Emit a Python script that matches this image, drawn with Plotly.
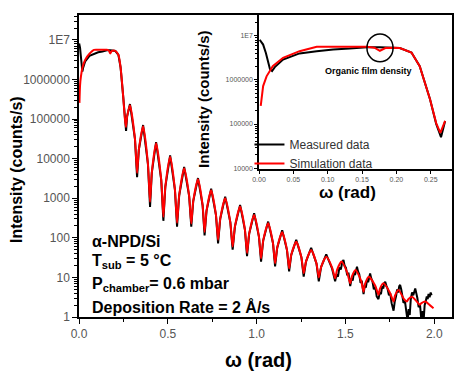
import plotly.graph_objects as go

# ---------------- data ----------------
# omega (rad) and log10(intensity in counts/s)
sim_omega = [
    0.0025, 0.006, 0.011, 0.020, 0.035, 0.059, 0.084, 0.120, 0.157, 0.168, 0.176, 0.184,
    0.195, 0.205, 0.222, 0.234, 0.249, 0.258,
    0.264, 0.271, 0.287, 0.315, 0.327, 0.337, 0.361, 0.388, 0.400, 0.410, 0.434, 0.463,
    0.475, 0.486, 0.513, 0.540, 0.552, 0.564, 0.592, 0.620, 0.632, 0.643, 0.670, 0.696,
    0.707, 0.718, 0.744, 0.771, 0.783, 0.795, 0.823, 0.852, 0.865, 0.878, 0.907, 0.934,
    0.946, 0.958, 0.986, 1.013, 1.025, 1.037, 1.065, 1.092, 1.104, 1.116, 1.144, 1.171,
    1.183, 1.195, 1.223, 1.252, 1.265, 1.278, 1.307, 1.337, 1.350, 1.363, 1.392, 1.425,
    1.442, 1.453, 1.478, 1.510, 1.527, 1.536, 1.557, 1.588, 1.602, 1.610, 1.632, 1.668,
    1.686, 1.694, 1.714, 1.750, 1.771, 1.779, 1.799, 1.830, 1.846, 1.854, 1.874, 1.900,
    1.918, 1.928, 1.950, 1.975, 1.996,
]
sim_log10 = [
    5.41, 5.86, 6.08, 6.31, 6.50, 6.65, 6.75, 6.75, 6.75, 6.73, 6.66, 6.72,
    6.73, 6.72, 6.62, 6.31, 5.56, 5.02,
    4.80, 5.07, 5.35, 4.50, 3.64, 4.23, 4.82, 3.87, 2.91, 3.65, 4.39, 3.46,
    2.53, 3.29, 4.05, 3.22, 2.38, 3.07, 3.76, 3.06, 2.36, 2.92, 3.48, 2.82,
    2.15, 2.68, 3.20, 2.58, 1.95, 2.48, 3.00, 2.39, 1.78, 2.29, 2.79, 2.21,
    1.62, 2.10, 2.58, 2.03, 1.48, 1.93, 2.37, 1.87, 1.36, 1.75, 2.14, 1.69,
    1.23, 1.57, 1.90, 1.51, 1.11, 1.40, 1.69, 1.35, 1.00, 1.26, 1.52, 1.25,
    0.98, 1.19, 1.40, 1.12, 0.85, 1.02, 1.19, 0.92, 0.64, 0.83, 1.02, 0.79,
    0.56, 0.71, 0.85, 0.62, 0.39, 0.54, 0.68, 0.45, 0.39, 0.45, 0.51, 0.40,
    0.31, 0.35, 0.39, 0.30, 0.22,
]

meas_omega = [
    0.001, 0.006, 0.010, 0.013, 0.016, 0.019, 0.023, 0.035, 0.059, 0.084, 0.108, 0.132,
    0.157, 0.176, 0.195, 0.205, 0.222, 0.234, 0.249, 0.258,
    0.265, 0.271, 0.287, 0.315, 0.327, 0.337, 0.361, 0.388, 0.400, 0.410, 0.434, 0.463,
    0.475, 0.486, 0.513, 0.540, 0.552, 0.564, 0.592, 0.620, 0.632, 0.643, 0.670, 0.696,
    0.707, 0.718, 0.744, 0.771, 0.783, 0.795, 0.823, 0.852, 0.865, 0.878, 0.907, 0.934,
    0.946, 0.958, 0.986, 1.013, 1.025, 1.037, 1.065, 1.092, 1.104, 1.116, 1.144, 1.171,
    1.183, 1.195, 1.223, 1.252, 1.265, 1.278, 1.307, 1.337, 1.350, 1.363, 1.392, 1.425,
    1.442, 1.450, 1.458, 1.466, 1.474, 1.482, 1.489, 1.495, 1.503, 1.510, 1.517,
    1.527, 1.535, 1.541, 1.548, 1.554, 1.560, 1.565, 1.571, 1.578, 1.585, 1.592,
    1.602, 1.609, 1.615, 1.622, 1.628, 1.634, 1.639, 1.645, 1.652, 1.660, 1.668,
    1.676, 1.686, 1.693, 1.700, 1.707, 1.713, 1.719, 1.724, 1.730, 1.737, 1.745,
    1.752, 1.760, 1.771, 1.778, 1.785, 1.791, 1.797, 1.803, 1.808, 1.814, 1.820,
    1.827, 1.835, 1.843, 1.850, 1.856, 1.862, 1.868, 1.875, 1.882, 1.888, 1.893,
    1.899, 1.905, 1.912, 1.920, 1.928, 1.935, 1.940, 1.946, 1.952, 1.958, 1.963,
    1.968, 1.974, 1.980, 1.985,
]
meas_log10 = [
    6.91, 6.80, 6.61, 6.39, 6.24, 6.20, 6.29, 6.46, 6.60, 6.65, 6.69, 6.71,
    6.74, 6.74, 6.73, 6.72, 6.62, 6.31, 5.56, 5.00,
    4.70, 5.07, 5.38, 4.50, 3.53, 4.23, 4.85, 3.87, 2.78, 3.65, 4.42, 3.46,
    2.43, 3.29, 4.08, 3.22, 2.28, 3.07, 3.79, 3.06, 2.28, 2.92, 3.51, 2.82,
    2.06, 2.68, 3.24, 2.58, 1.86, 2.48, 3.04, 2.39, 1.70, 2.29, 2.83, 2.21,
    1.54, 2.10, 2.62, 2.03, 1.40, 1.93, 2.41, 1.87, 1.28, 1.75, 2.19, 1.69,
    1.15, 1.57, 1.95, 1.51, 1.02, 1.40, 1.75, 1.35, 0.90, 1.26, 1.58, 1.22,
    0.90, 1.08, 1.02, 1.25, 1.20, 1.38, 1.44, 1.30, 1.24, 1.05, 1.12,
    0.78, 0.98, 0.92, 1.12, 1.06, 1.22, 1.27, 1.15, 1.08, 0.86, 0.92,
    0.58, 0.80, 0.74, 0.95, 0.88, 1.05, 1.10, 0.98, 0.90, 0.70, 0.76,
    0.52, 0.45, 0.62, 0.58, 0.78, 0.72, 0.86, 0.89, 0.80, 0.72, 0.55,
    0.60, 0.35, 0.16, 0.40, 0.52, 0.70, 0.62, 0.78, 0.81, 0.70, 0.58,
    0.36, 0.40, 0.10, -0.10, 0.20, 0.05, 0.45, 0.62, 0.55, 0.70, 0.72,
    0.60, 0.48, 0.25, 0.30, -0.10, 0.15, -0.10, 0.30, 0.40, 0.52, 0.45,
    0.58, 0.50, 0.62, 0.55,
]

main_y_ticks = [1, 10, 100, 1000, 10000, 100000, 1000000, 10000000]
main_y_labels = ["1", "10", "100", "1000", "10000", "100000", "1000000", "1E7"]
main_x_ticks = [0.0, 0.5, 1.0, 1.5, 2.0]
main_x_labels = ["0.0", "0.5", "1.0", "1.5", "2.0"]
inset_y_ticks = [10000, 100000, 1000000, 10000000]
inset_y_labels = ["10000", "100000", "1000000", "1E7"]
inset_x_ticks = [0.0, 0.05, 0.10, 0.15, 0.20, 0.25]
inset_x_labels = ["0.00", "0.05", "0.10", "0.15", "0.20", "0.25"]
INSET_MAX = 0.275

sim_int = [10 ** v for v in sim_log10]
meas_int = [10 ** v for v in meas_log10]

FONT = "Liberation Sans, Arial, sans-serif"
fig = go.Figure()

fig.add_trace(go.Scatter(x=meas_omega, y=meas_int, mode="lines", name="Measured data",
                         line=dict(color="black", width=2), xaxis="x", yaxis="y"))
fig.add_trace(go.Scatter(x=sim_omega, y=sim_int, mode="lines", name="Simulation data",
                         line=dict(color="#ff0000", width=2, shape="spline", smoothing=0.6),
                         xaxis="x", yaxis="y"))

mi = [(o, v) for o, v in zip(meas_omega, meas_int) if o <= INSET_MAX]
si = [(o, v) for o, v in zip(sim_omega, sim_int) if o <= INSET_MAX]
fig.add_trace(go.Scatter(x=[p[0] for p in mi], y=[p[1] for p in mi], mode="lines",
                         line=dict(color="black", width=2), showlegend=False,
                         xaxis="x2", yaxis="y2"))
fig.add_trace(go.Scatter(x=[p[0] for p in si], y=[p[1] for p in si], mode="lines",
                         line=dict(color="#ff0000", width=2), showlegend=False,
                         xaxis="x2", yaxis="y2"))

axis_common = dict(showline=True, linecolor="black", linewidth=1.5, mirror=True,
                   showgrid=False, zeroline=False, ticks="outside", tickcolor="black",
                   tickwidth=1.2)

fig.update_layout(
    width=474, height=388,
    margin=dict(l=79, r=22, t=15, b=71),
    paper_bgcolor="white", plot_bgcolor="white",
    font=dict(family=FONT, color="black"),
    xaxis=dict(**axis_common, domain=[0, 1], range=[0, 2.1], anchor="y",
               tickmode="array", tickvals=main_x_ticks, ticktext=main_x_labels, ticklen=5,
               tickfont=dict(size=12, color="#555555"),
               minor=dict(tickvals=[0.25, 0.75, 1.25, 1.75], ticks="outside", ticklen=3,
                          tickcolor="black")),
    yaxis=dict(**axis_common, domain=[0, 1], type="log", range=[0, 7.63], anchor="x",
               tickmode="array", tickvals=main_y_ticks, ticktext=main_y_labels, ticklen=5,
               tickfont=dict(size=12, color="#555555"),
               minor=dict(ticks="outside", ticklen=3, tickcolor="black", dtick="D1")),
    xaxis2=dict(**axis_common, domain=[0.4826, 1], range=[0, 0.281], anchor="y2",
                tickmode="array", tickvals=inset_x_ticks, ticktext=inset_x_labels, ticklen=3,
                tickfont=dict(size=7, color="#555555")),
    yaxis2=dict(**axis_common, domain=[0.490, 1], type="log", range=[3.98, 7.47], anchor="x2",
                tickmode="array", tickvals=inset_y_ticks, ticktext=inset_y_labels, ticklen=3,
                tickfont=dict(size=7, color="#555555"),
                minor=dict(ticks="outside", ticklen=2, tickcolor="black", dtick="D1")),
    legend=dict(x=0.457, y=0.540, xanchor="left", yanchor="middle", bgcolor="rgba(0,0,0,0)",
                font=dict(size=12, color="#333333"), tracegroupgap=0, itemwidth=30),
    showlegend=True,
)

ann = [
    dict(text="<b>ω (rad)</b>", x=0.48, y=-0.142, font=dict(size=20)),
    dict(text="<b>Intensity (counts/s)</b>", x=-0.166, y=0.487, textangle=-90, font=dict(size=16)),
    dict(text="<b>Intensity (counts/s)</b>", x=0.335, y=0.722, textangle=-90, font=dict(size=15)),
    dict(text="<b>ω (rad)</b>", x=0.7185, y=0.411, font=dict(size=17)),
    dict(text="<b>Organic film density</b>", x=0.775, y=0.815, font=dict(size=9)),
]
for a in ann:
    fig.add_annotation(xref="paper", yref="paper", showarrow=False, xanchor="center",
                       yanchor="middle", **a)

info = [
    ("<b>α-NPD/Si</b>", 0.250),
    ("<b>T<sub>sub</sub> = 5 °C</b>", 0.185),
    ("<b>P<sub>chamber</sub>= 0.6 mbar</b>", 0.109),
    ("<b>Deposition Rate = 2 Å/s</b>", 0.033),
]
for t, yy in info:
    fig.add_annotation(xref="paper", yref="paper", x=0.0295, y=yy, text=t, showarrow=False,
                       xanchor="left", yanchor="middle", font=dict(size=16, color="black"))

fig.add_shape(type="circle", xref="paper", yref="paper", x0=0.772, x1=0.842, y0=0.845, y1=0.937,
              line=dict(color="black", width=1.5))

fig.write_html("out.html", config={"displayModeBar": False},
               post_script="document.body.style.margin='0px';")
